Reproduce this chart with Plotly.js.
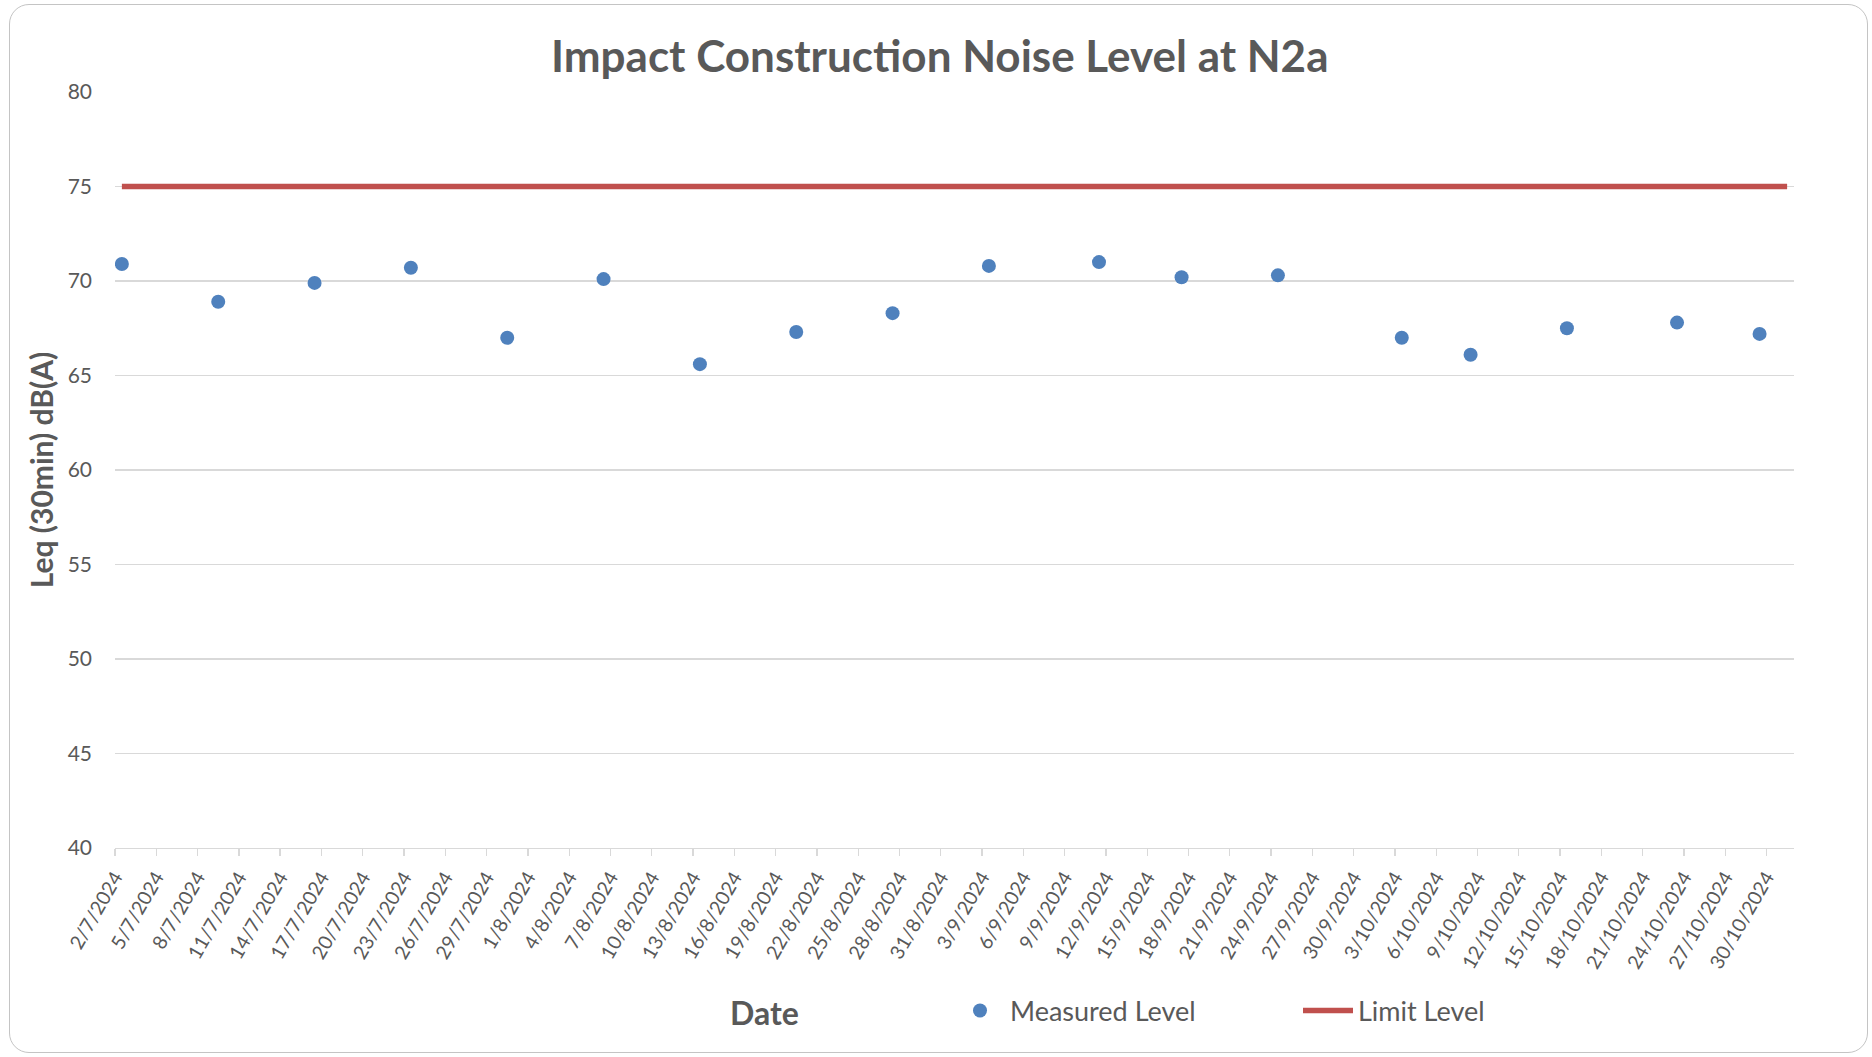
<!DOCTYPE html>
<html>
<head>
<meta charset="utf-8">
<script src="https://cdn.plot.ly/plotly-3.0.1.min.js"></script>
<style>
  html, body { margin: 0; padding: 0; background: #ffffff; }
  #chart { position: absolute; left: 0; top: 0; width: 1872px; height: 1057px; }
  #frame { position: absolute; left: 9px; top: 4px; width: 1859px; height: 1049px;
           border: 1.5px solid #c4c4c4; border-radius: 20px; pointer-events: none; box-sizing: border-box; }
</style>
</head>
<body>
<div id="chart"></div>
<div id="frame"></div>
<script>
// ---- data ----
const measuredDates = ['2024-07-02','2024-07-09','2024-07-16','2024-07-23','2024-07-30','2024-08-06',
  '2024-08-13','2024-08-20','2024-08-27','2024-09-03','2024-09-11','2024-09-17',
  '2024-09-24','2024-10-03','2024-10-08','2024-10-15','2024-10-23','2024-10-29'];
const measuredLevels = [70.9, 68.9, 69.9, 70.7, 67.0, 70.1,
  65.6, 67.3, 68.3, 70.8, 71.0, 70.2,
  70.3, 67.0, 66.1, 67.5, 67.8, 67.2];
const limitDates = ['2024-07-02', '2024-10-31'];
const limitLevels = [75, 75];
const tickLabels = ['2/7/2024','5/7/2024','8/7/2024','11/7/2024','14/7/2024','17/7/2024','20/7/2024',
  '23/7/2024','26/7/2024','29/7/2024','1/8/2024','4/8/2024','7/8/2024','10/8/2024','13/8/2024',
  '16/8/2024','19/8/2024','22/8/2024','25/8/2024','28/8/2024','31/8/2024','3/9/2024','6/9/2024',
  '9/9/2024','12/9/2024','15/9/2024','18/9/2024','21/9/2024','24/9/2024','27/9/2024','30/9/2024',
  '3/10/2024','6/10/2024','9/10/2024','12/10/2024','15/10/2024','18/10/2024','21/10/2024',
  '24/10/2024','27/10/2024','30/10/2024'];
const yTicks = [40, 45, 50, 55, 60, 65, 70, 75, 80];

// helpers
function labelToIso(s) {
  const p = s.split('/');
  return p[2] + '-' + p[1].padStart(2, '0') + '-' + p[0].padStart(2, '0');
}
// Excel date axis places each day's value in the middle of its day slot
const midDay = d => d + ' 12:00';

const textColor = '#595959';
const font = 'Lato, "Open Sans", sans-serif';

const traces = [
  {
    type: 'scatter', mode: 'markers', name: 'Measured Level',
    x: measuredDates.map(midDay), y: measuredLevels,
    marker: { color: '#4F81BD', size: 14 }
  },
  {
    type: 'scatter', mode: 'lines', name: 'Limit Level',
    x: limitDates.map(midDay), y: limitLevels,
    line: { color: '#C0504D', width: 5.5 }
  }
];

const layout = {
  width: 1872, height: 1057,
  paper_bgcolor: '#ffffff', plot_bgcolor: '#ffffff',
  margin: { l: 115, r: 78, t: 92, b: 209 },
  font: { family: font, color: textColor },
  title: {
    text: '<b>Impact Construction Noise Level at N2a</b>',
    font: { family: font, size: 44, color: textColor },
    x: 0.502, xanchor: 'center', y: 1 - 57 / 1057, yanchor: 'middle', yref: 'container'
  },
  xaxis: {
    type: 'date',
    range: ['2024-07-02', '2024-11-01'],
    tickmode: 'array',
    tickvals: tickLabels.map(labelToIso),
    ticktext: tickLabels,
    tickangle: -60,
    ticks: 'outside', ticklen: 7, tickwidth: 1.3, tickcolor: '#d9d9d9',
    showline: true, linecolor: '#d9d9d9', linewidth: 1.3,
    showgrid: false, zeroline: false,
    tickfont: { family: font, size: 19.5, color: textColor },
    ticklabelstandoff: 2,
    fixedrange: true
  },
  yaxis: {
    range: [40, 80],
    tickmode: 'array', tickvals: yTicks,
    ticks: '', showline: false, zeroline: false,
    showgrid: true, gridcolor: '#d9d9d9', gridwidth: 1.3,
    tickfont: { family: font, size: 21, color: textColor },
    ticklabelstandoff: 22,
    title: { text: '<b>Leq (30min) dB(A)</b>', font: { family: font, size: 30, color: textColor }, standoff: 5 },
    automargin: false,
    fixedrange: true
  },
  showlegend: true,
  legend: {
    orientation: 'h',
    x: (950 - 115) / 1679, xanchor: 'left',
    y: -(1011 - 848) / 756, yanchor: 'middle',
    font: { family: font, size: 27, color: textColor },
    itemwidth: 50,
    entrywidth: 283, entrywidthmode: 'pixels',
    bgcolor: 'rgba(0,0,0,0)', borderwidth: 0,
    itemclick: false, itemdoubleclick: false
  },
  annotations: [
    {
      text: '<b>Date</b>', xref: 'paper', yref: 'paper',
      x: (764 - 115) / 1679, y: -(1012 - 848) / 756,
      xanchor: 'center', yanchor: 'middle', showarrow: false,
      font: { family: font, size: 32, color: textColor }
    }
  ]
};

Plotly.newPlot('chart', traces, layout, { displayModeBar: false, staticPlot: true });
</script>
</body>
</html>
